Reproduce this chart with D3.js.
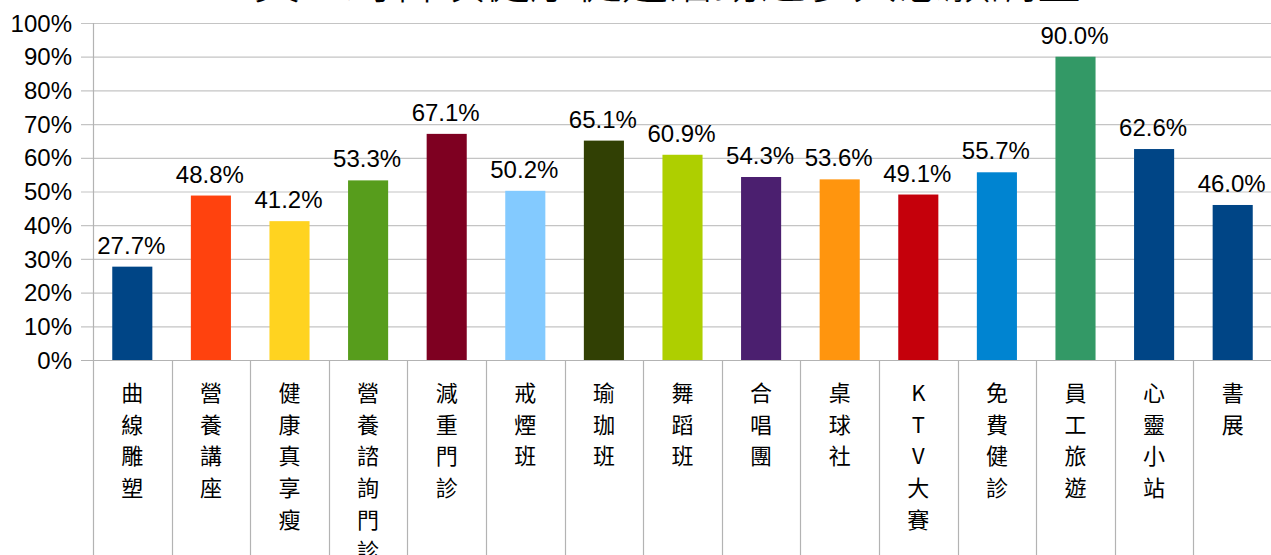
<!DOCTYPE html>
<html><head><meta charset="utf-8">
<script src="https://cdn.jsdelivr.net/npm/d3@7"></script>
<style>body{margin:0;background:#fff;} svg{display:block;}</style>
</head><body>
<svg id="c" width="1271" height="555"></svg>
<script>
const categories = ["曲線雕塑","營養講座","健康真享瘦","營養諮詢門診","減重門診","戒煙班","瑜珈班","舞蹈班","合唱團","桌球社","KTV大賽","免費健診","員工旅遊","心靈小站","書展"];
const values = [27.7,48.8,41.2,53.3,67.1,50.2,65.1,60.9,54.3,53.6,49.1,55.7,90.0,62.6,46.0];
const colors = ["#004586","#ff420e","#ffd320","#579d1c","#7e0021","#83caff","#314004","#aecf00","#4b1f6f","#ff950e","#c5000b","#0084d1","#339966","#004586","#004586"];
const yTicks = [0,10,20,30,40,50,60,70,80,90,100];
const title = "員工對各項健康促進活動之參與意願調查";

const svg = d3.select("#c");
const x = d3.scaleBand().domain(categories).range([93, 1272]).paddingInner(0).paddingOuter(0);
const y = d3.scaleLinear().domain([0,100]).range([360, 23]);

// title (mostly clipped at top, as in the reference)
svg.append("text").attr("x", 668).attr("y", -2).attr("text-anchor","middle")
  .attr("font-family","Noto Sans CJK TC").attr("font-weight",300).attr("font-size",46).attr("fill","#000").text(title);

// gridlines
svg.append("g").selectAll("line").data(yTicks).join("line")
  .attr("x1", 81).attr("x2", 1272).attr("y1", d=>y(d)+0.5).attr("y2", d=>y(d)+0.5)
  .attr("stroke", "#c4c4c4").attr("stroke-width", 1.2);

// y tick labels
svg.append("g").selectAll("text").data(yTicks).join("text")
  .attr("x", 72).attr("y", d=>y(d)).attr("dy","0.36em").attr("text-anchor","end")
  .attr("font-family","Liberation Sans, Arial, sans-serif").attr("font-size",24).attr("fill","#000")
  .text(d=>d+"%");

// y axis line
svg.append("line").attr("x1",93.5).attr("x2",93.5).attr("y1",y(100)).attr("y2",555)
  .attr("stroke","#b3b3b3").attr("stroke-width",1.2);

// category separators below axis
const bounds = categories.map(c=>x(c)).slice(1).concat([1272]);
svg.append("g").selectAll("line").data(bounds).join("line")
  .attr("x1", d=>Math.round(d)+0.5).attr("x2", d=>Math.round(d)+0.5).attr("y1", y(0)).attr("y2", 555)
  .attr("stroke","#b3b3b3").attr("stroke-width",1.2);

// bars
const bw = x.bandwidth()*0.51;
svg.append("g").selectAll("rect").data(categories).join("rect")
  .attr("x", d=>x(d)+(x.bandwidth()-bw)/2)
  .attr("width", bw)
  .attr("y", (d,i)=>y(values[i]))
  .attr("height", (d,i)=>y(0)-y(values[i]))
  .attr("fill", (d,i)=>colors[i]);

// baseline
svg.append("line").attr("x1",81).attr("x2",1272).attr("y1",y(0)+0.5).attr("y2",y(0)+0.5)
  .attr("stroke","#b3b3b3").attr("stroke-width",1.2);

// data labels
svg.append("g").selectAll("text").data(categories).join("text")
  .attr("x", d=>x(d)+x.bandwidth()/2 - 1)
  .attr("y", (d,i)=>y(values[i])-13)
  .attr("text-anchor","middle")
  .attr("font-family","Liberation Sans, Arial, sans-serif").attr("font-size",24).attr("fill","#000")
  .text((d,i)=>values[i].toFixed(1)+"%");

// vertical category labels
const cg = svg.append("g").selectAll("g").data(categories).join("g");
cg.each(function(d){
  const g = d3.select(this);
  Array.from(d).forEach((ch,k)=>{
    g.append("text").attr("x", x(d)+x.bandwidth()/2).attr("y", 393 + k*31.7).attr("dy","0.36em")
      .attr("text-anchor","middle")
      .attr("font-family","Noto Sans CJK TC, Noto Sans CJK SC, sans-serif").attr("font-size",22).attr("fill","#000")
      .text(ch);
  });
});
</script>
</body></html>
